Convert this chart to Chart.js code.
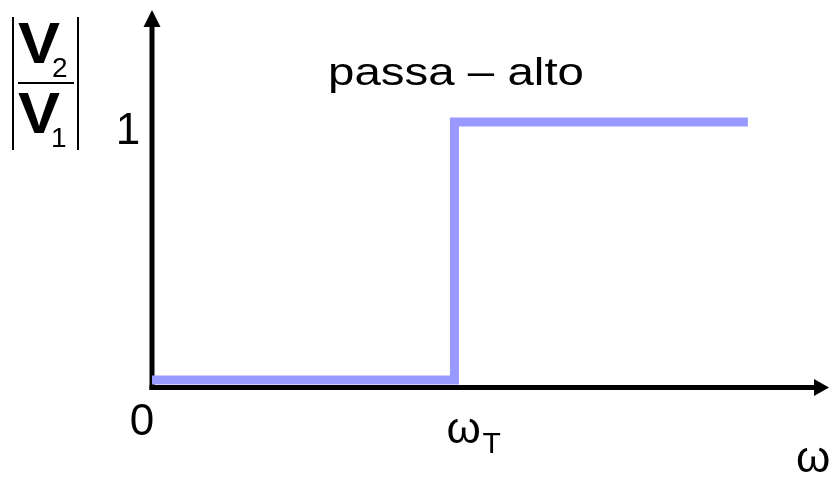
<!DOCTYPE html>
<html>
<head>
<meta charset="utf-8">
<script src="https://cdn.jsdelivr.net/npm/chart.js@4"></script>
<style>
  html, body { margin: 0; padding: 0; background: #fff; }
  #wrap { width: 829px; height: 478px; }
</style>
</head>
<body>
<div id="wrap"><canvas id="myChart"></canvas></div>
<script>
// ideal high-pass response, omega in units of the cut-off
var omega = [0, 1, 1, 1.97];
var gain = [0, 0, 1, 1];
var xTicks = [0, 1];
var xTickLabels = ['0', 'ω'];
var yTicks = [1];
var yTickLabels = ['1'];

var font = '"Liberation Sans", Arial, sans-serif';

// text squeezed into a given width
function wideText(c, txt, x, y, w) {
    var m = c.measureText(txt).width;
    c.save();
    c.translate(x, y);
    c.scale(w / m, 1);
    c.fillText(txt, 0, 0);
    c.restore();
}

var sketch = {
    id: 'sketch',
    beforeDatasetsDraw: function (chart) {
        var c = chart.ctx, a = chart.chartArea;
        var x0 = chart.scales.x.getPixelForValue(0);
        var yb = a.bottom;
        c.save();
        c.strokeStyle = '#000';
        c.fillStyle = '#000';
        c.lineWidth = 5;
        // y axis
        c.beginPath();
        c.moveTo(x0, yb + 2.5);
        c.lineTo(x0, a.top + 16);
        c.stroke();
        c.beginPath();
        c.moveTo(x0, a.top);
        c.lineTo(x0 - 8.5, a.top + 17);
        c.lineTo(x0 + 8.5, a.top + 17);
        c.closePath();
        c.fill();
        // x axis
        c.beginPath();
        c.moveTo(x0 - 2.5, yb);
        c.lineTo(a.right - 14, yb);
        c.stroke();
        c.beginPath();
        c.moveTo(a.right + 1, yb);
        c.lineTo(a.right - 14, yb - 8.5);
        c.lineTo(a.right - 14, yb + 8.5);
        c.closePath();
        c.fill();
        c.restore();
    },
    afterDatasetsDraw: function (chart) {
        var c = chart.ctx;
        var sx = chart.scales.x, sy = chart.scales.y;
        c.save();
        c.fillStyle = '#000';
        c.textBaseline = 'alphabetic';
        c.textAlign = 'center';
        c.font = '44px ' + font;
        // x tick labels
        c.fillText(xTickLabels[0], sx.getPixelForValue(xTicks[0]) - 10, 435);
        c.textAlign = 'left';
        c.fillText(xTickLabels[1], sx.getPixelForValue(xTicks[1]) - 8, 443);
        c.font = '30px ' + font;
        c.fillText('T', sx.getPixelForValue(xTicks[1]) + 28, 453);
        // axis name
        c.font = '44px ' + font;
        c.fillText('ω', 796, 472);
        // y tick label
        c.textAlign = 'center';
        c.fillText(yTickLabels[0], 128, sy.getPixelForValue(yTicks[0]) + 22);
        // title
        c.font = '38px ' + font;
        wideText(c, 'passa – alto', 456, 85, 256);
        // |V2 / V1|
        c.font = 'bold 58px ' + font;
        wideText(c, 'V', 39, 63, 42);
        wideText(c, 'V', 39, 133, 42);
        c.font = '28px ' + font;
        c.textAlign = 'left';
        c.fillText('2', 52, 77);
        c.fillText('1', 51, 147);
        c.fillRect(18, 82, 56, 2);
        c.fillRect(12, 17, 2, 133);
        c.fillRect(77, 17, 2, 133);
        c.restore();
    }
};

var ctx = document.getElementById('myChart').getContext('2d');
var myChart = new Chart(ctx, {
    type: 'line',
    data: {
        datasets: [{
            data: omega.map(function (v, i) { return { x: v, y: gain[i] }; }),
            borderColor: '#9999ff',
            borderWidth: 9,
            pointRadius: 0,
            tension: 0,
            borderJoinStyle: 'miter',
            fill: false
        }]
    },
    options: {
        responsive: true,
        maintainAspectRatio: false,
        animation: false,
        layout: { padding: { left: 152, right: 1, top: 10, bottom: 90.5 } },
        plugins: {
            legend: { display: false },
            tooltip: { enabled: false }
        },
        scales: {
            x: { type: 'linear', display: false, min: 0, max: 2.235 },
            y: { display: false, min: -0.029, max: 1.434 }
        }
    },
    plugins: [sketch]
});
</script>
</body>
</html>
